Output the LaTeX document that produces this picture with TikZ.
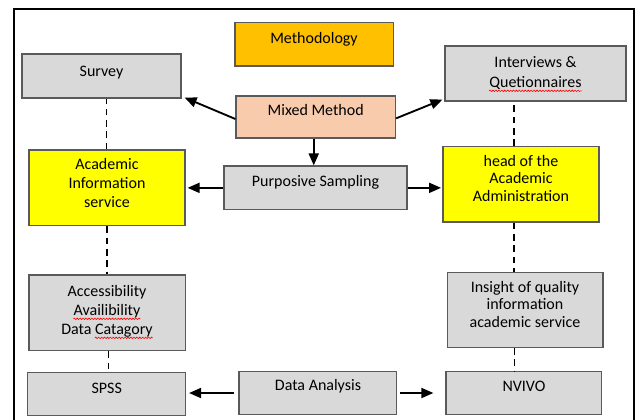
\documentclass[tikz,border=0pt]{standalone}
\usepackage{fontspec}
\setmainfont{Carlito}
\usetikzlibrary{fit,arrows.meta,decorations.pathmorphing}

\definecolor{boxgray}{HTML}{D9D9D9}
\definecolor{edgegray}{HTML}{5A5A5A}
\definecolor{methorange}{HTML}{FFC000}
\definecolor{mixpeach}{HTML}{F8CBAD}
\definecolor{hiyellow}{HTML}{FFFF00}

\tikzset{
  panel/.style={draw=edgegray, line width=0.9pt, inner sep=0pt},
  graybox/.style={panel, fill=boxgray},
  txt/.style={inner sep=0pt, align=center,
    font=\fontsize{12}{14.5}\selectfont,
    execute at begin node=\strut, execute at end node=\strut},
  tighttxt/.style={txt, font=\fontsize{12}{13.2}\selectfont},
  wordbox/.style={inner sep=0pt, font=\fontsize{12}{14.5}\selectfont},
  flow/.style={line width=1.4pt, -{Triangle[length=9pt,width=7.5pt]}},
  link/.style={line width=1.2pt, dash pattern=on 5pt off 3.5pt},
  spell/.style={draw=red, line width=0.45pt,
    decorate, decoration={snake, amplitude=0.55pt, segment length=2.2pt}}
}

\begin{document}
\begin{tikzpicture}[x=0.75pt,y=-0.75pt]
\useasboundingbox (0,0) rectangle (636,419);

% outer frame, open at the bottom
\draw[line width=1.5pt] (13.5,425) -- (13.5,9) -- (634,9) -- (634,425);

% boxes
\node[panel, fill=methorange, fit={(235,22.7) (393.5,66)}] (meth) {};
\node[graybox, fit={(22,54) (181,98)}] (survey) {};
\node[graybox, fit={(445,46) (626,101)}] (inter) {};
\node[panel, fill=mixpeach, fit={(236,96) (395.5,138)}] (mixed) {};
\node[graybox, fit={(224,166) (407,209.7)}] (purp) {};
\node[panel, fill=hiyellow, fit={(29,150) (185,225.7)}] (ais) {};
\node[panel, fill=hiyellow, fit={(443,146.7) (599,222)}] (head) {};
\node[graybox, fit={(29,275) (185.4,350.7)}] (acc) {};
\node[graybox, fit={(447.5,272.7) (603,347.3)}] (ins) {};
\node[graybox, fit={(27.6,372.3) (185.8,415.7)}] (spss) {};
\node[graybox, fit={(239,371.7) (396.7,414.3)}] (data) {};
\node[graybox, fit={(446,371.7) (601.6,414.3)}] (nvivo) {};

% labels
\node[txt] (t-meth) at (314,39.5) {Methodology};
\node[txt] (t-survey) at (101.5,72.5) {Survey};
\node[txt] (t-inter1) at (535.5,63.5) {Interviews \&};
\node[txt] (t-inter2) at (535.5,83.5) {Quetionnaires};
\node[txt] (t-mixed) at (315.7,111.5) {Mixed Method};
\node[txt] (t-purp) at (315.5,183) {Purposive Sampling};
\node[txt] (t-ais) at (107,186) {Academic\\ Information\\ service};
\node[tighttxt] (t-head) at (521,181) {head of the\\ Academic\\ Administration};
\node[txt] (t-acc1) at (107,292.5) {Accessibility};
\node[txt] (t-acc2) at (107,311.5) {Availibility};
\node[txt] (t-acc3) at (107,330.5) {Data Catagory};
\node[tighttxt] (t-ins) at (525,307) {Insight of quality\\ information\\ academic service};
\node[txt] (t-spss) at (106.7,389.5) {SPSS};
\node[txt] (t-data) at (318,387) {Data Analysis};
\node[txt] (t-nvivo) at (524,387.5) {NVIVO};

% spell-checker squiggles under the misspelt words
\node[wordbox, anchor=base east] (w-cat) at (t-acc3.base east) {\phantom{Catagory}};
\draw[spell] ([yshift=-2.6pt]t-inter2.base west) -- ([yshift=-2.6pt]t-inter2.base east);
\draw[spell] ([yshift=-2.6pt]t-acc2.base west) -- ([yshift=-2.6pt]t-acc2.base east);
\draw[spell] ([yshift=-2.6pt]w-cat.base west) -- ([yshift=-2.6pt]w-cat.base east);

% arrows out of the method boxes
\draw[flow] ([yshift=-1.5pt]mixed.west) -- ([shift={(3,-1)}]survey.south east);
\draw[flow] ([yshift=-1pt]mixed.east) -- ([shift={(-2,-2)}]inter.south west);
\draw[flow] ([xshift=-1.5pt]mixed.south) -- ([xshift=-1.5pt]mixed.south |- purp.north);
\draw[flow] (purp.west) -- ([xshift=1.5pt]purp.west -| ais.east);
\draw[flow] (purp.east) -- ([xshift=-1pt]purp.east -| head.west);
\draw[flow, shorten <=3.4pt] (data.west) -- ([xshift=2pt]data.west -| spss.east);
\draw[flow, shorten <=2.2pt, shorten >=9pt] (data.east) -- (data.east -| nvivo.west);

% dashed links down each column
\draw[link] ([xshift=-0.5pt]ais.north) -- ([xshift=-0.5pt]ais.north |- survey.south);
\draw[link] (ais.south) -- (ais.south |- acc.north);
\draw[link] ([xshift=1.1pt]acc.south) -- ([xshift=1.1pt]acc.south |- spss.north);
\draw[link] ([xshift=-5.25pt]head.north) -- ([xshift=-5.25pt]head.north |- inter.south);
\draw[link] ([xshift=-5.25pt]head.south) -- ([xshift=-5.25pt]head.south |- ins.north);
\draw[link] ([xshift=-8.1pt]ins.south) -- ([xshift=-8.1pt]ins.south |- nvivo.north);
\end{tikzpicture}
\end{document}
